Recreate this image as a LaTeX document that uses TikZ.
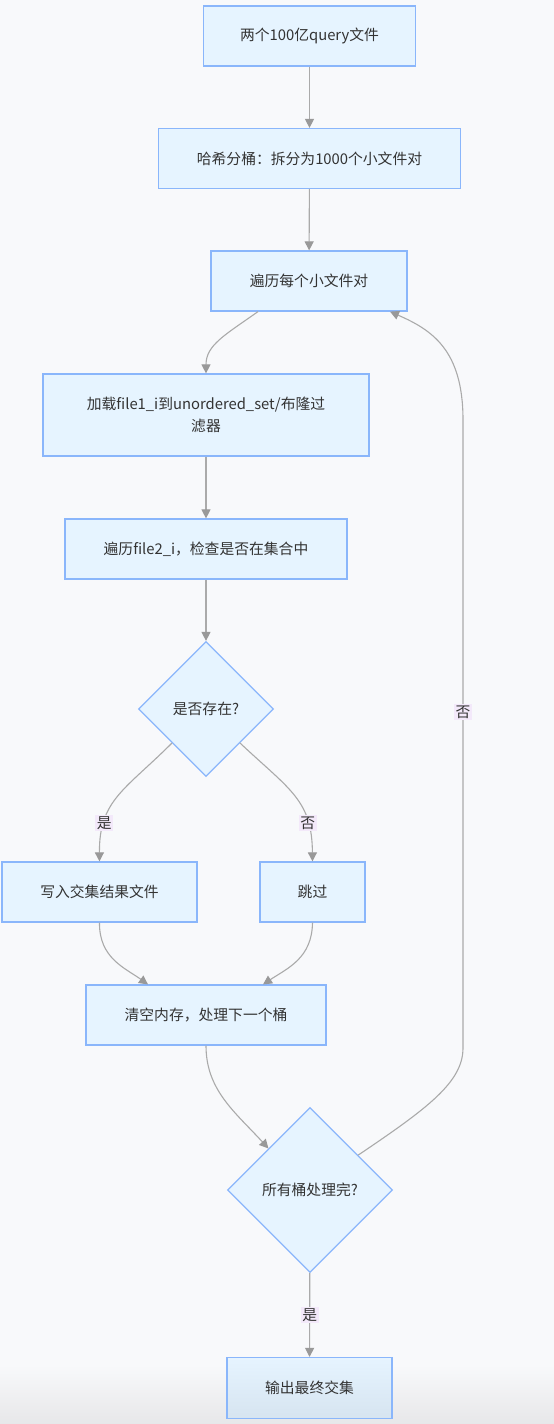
\documentclass[tikz,border=0pt]{standalone}
\usepackage{fontspec}
\setmainfont{Noto Sans CJK SC}
\usepackage{xcolor}
\usetikzlibrary{shapes.geometric,arrows.meta,calc}

\definecolor{bgc}{HTML}{F8F9FB}
\definecolor{bgfoot}{HTML}{E7E7E9}
\definecolor{boxfill}{HTML}{E6F4FF}
\definecolor{boxfoot}{HTML}{D6E4F0}
\definecolor{boxline}{HTML}{8AB6FB}
\definecolor{edgec}{HTML}{AAAAAA}
\definecolor{tipc}{HTML}{999999}
\definecolor{lblfill}{HTML}{F3E9FA}
\definecolor{txt}{HTML}{333333}

\tikzset{
  box/.style={draw=boxline, fill=boxfill, line width=1.2pt, minimum height=60pt,
              text=txt, font=\fontsize{14.8}{22}\selectfont, align=center},
  dia/.style={box, diamond, aspect=1, inner sep=0pt},
  flow/.style={edgec, line width=1.1pt, -{Triangle[length=9pt,width=9pt,color=tipc]}},
  lbl/.style={fill=lblfill, text=txt, inner sep=1.5pt, font=\fontsize{14.8}{16}\selectfont},
}

\begin{document}
\begin{tikzpicture}[x=1pt,y=-1pt]

\useasboundingbox (0,0) rectangle (554,1424);
\fill[bgc] (0,0) rectangle (554,1424);
\shade[top color=bgc, bottom color=bgfoot] (0,1365) rectangle (554,1424);

% steps
\node[box, minimum width=212pt] (start) at (309.5,36) {两个100亿query文件};
\node[box, minimum width=302pt] (split) at (309.5,158.5) {哈希分桶：拆分为1000个小文件对};
\node[box, minimum width=196pt] (loop) at (309,281) {遍历每个小文件对};
\node[box, minimum width=326pt, minimum height=82pt] (load) at (206,415)
    {加载file1\_i到unordered\_set/布隆过\\滤器};
\node[box, minimum width=282pt] (scan) at (206,549) {遍历file2\_i，检查是否在集合中};
\node[dia, minimum width=135pt, minimum height=135pt] (exist) at (206,709) {是否存在?};
\node[box, minimum width=195pt] (write) at (99.5,892) {写入交集结果文件};
\node[box, minimum width=105pt] (skip) at (312.5,892) {跳过};
\node[box, minimum width=240pt] (clear) at (206,1015) {清空内存，处理下一个桶};
\node[dia, minimum width=165pt, minimum height=165pt] (done) at (310,1190) {所有桶处理完?};
\node[box, minimum width=165pt, minimum height=61pt, top color=boxfill, bottom color=boxfoot]
    (out) at (309.5,1388) {输出最终交集};

% loop back
\coordinate (backlow) at (463,1048);
\coordinate (backhigh) at (463,420);

% edges
\draw[flow] (start) -- (split);
\draw[flow] (split) -- (loop);
\draw[flow] ([xshift=-51pt]loop.south) .. controls (225,335) and (206,345) .. (load.north);
\draw[flow] (load) -- (scan);
\draw[flow] (scan) -- (exist);
\draw[flow] (exist.south west) .. controls (125,790) and (99,800) .. (write.north)
    node[lbl, pos=0.745] {是};
\draw[flow] (exist.south east) .. controls (290,790) and (312,800) .. (skip.north)
    node[lbl, pos=0.745] {否};
\draw[flow] (write.south) .. controls (99,958) and (125,968) .. ([xshift=-58pt]clear.north);
\draw[flow] (skip.south) .. controls (312,958) and (288,968) .. ([xshift=57pt]clear.north);
\draw[flow] (clear.south) .. controls (206,1090) and (235,1112) .. (done.north west);
\draw[flow] ($(done.north east)!0.16!(done.east)$) .. controls (428,1108) and (463,1082) .. (backlow)
    -- node[lbl, pos=0.535] {否} (backhigh)
    .. controls (463,350) and (432,330) .. ([xshift=81pt]loop.south);
\draw[flow] (done) -- node[lbl, pos=0.5] {是} (out);

\end{tikzpicture}
\end{document}
